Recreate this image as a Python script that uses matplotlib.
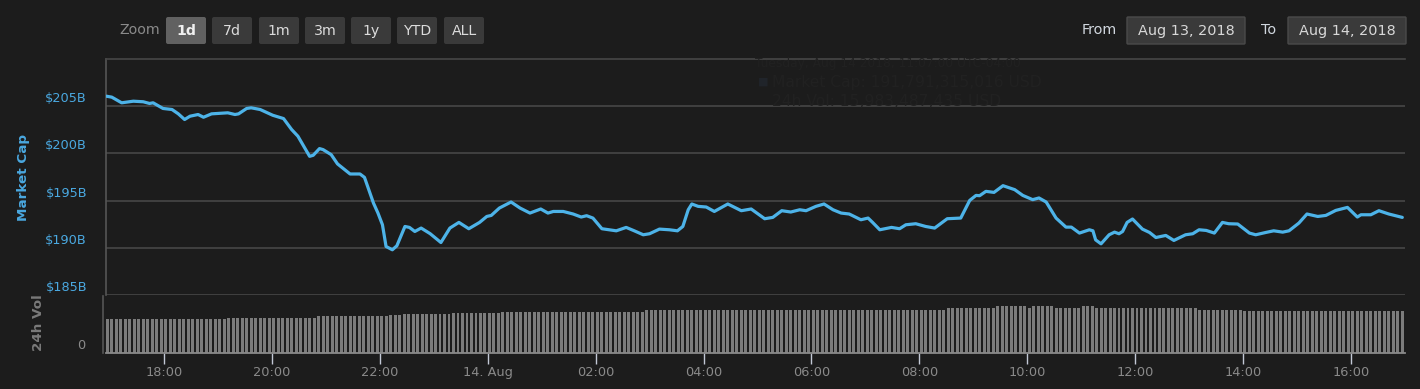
import matplotlib
matplotlib.use("Agg")
import matplotlib.pyplot as plt
import pandas as pd
from matplotlib.patches import FancyBboxPatch
from matplotlib.transforms import ScaledTranslation, blended_transform_factory

# ---------------- data ----------------
line_times = [
    "08-13 16:56", "08-13 17:02", "08-13 17:13", "08-13 17:26", "08-13 17:37", "08-13 17:44",
    "08-13 17:48", "08-13 17:59", "08-13 18:09", "08-13 18:16", "08-13 18:23", "08-13 18:29",
    "08-13 18:38", "08-13 18:44", "08-13 18:53", "08-13 19:11", "08-13 19:19", "08-13 19:23",
    "08-13 19:32", "08-13 19:37", "08-13 19:47", "08-13 20:01", "08-13 20:13", "08-13 20:22",
    "08-13 20:29", "08-13 20:42", "08-13 20:46", "08-13 20:53", "08-13 20:57", "08-13 21:06",
    "08-13 21:13", "08-13 21:27", "08-13 21:38", "08-13 21:43", "08-13 21:53", "08-13 21:58",
    "08-13 22:03", "08-13 22:07", "08-13 22:14", "08-13 22:19", "08-13 22:28", "08-13 22:33",
    "08-13 22:39", "08-13 22:46", "08-13 22:56", "08-13 23:08", "08-13 23:18", "08-13 23:28",
    "08-13 23:39", "08-13 23:51", "08-13 23:59",
    "08-14 00:04", "08-14 00:13", "08-14 00:26", "08-14 00:36", "08-14 00:47", "08-14 00:59",
    "08-14 01:07", "08-14 01:13", "08-14 01:24", "08-14 01:35", "08-14 01:44", "08-14 01:50",
    "08-14 01:57", "08-14 02:07", "08-14 02:23", "08-14 02:34", "08-14 02:43", "08-14 02:53",
    "08-14 03:00", "08-14 03:11", "08-14 03:22", "08-14 03:31", "08-14 03:37", "08-14 03:43",
    "08-14 03:47", "08-14 03:54", "08-14 04:03", "08-14 04:12", "08-14 04:27", "08-14 04:42",
    "08-14 04:53", "08-14 05:08", "08-14 05:17", "08-14 05:27", "08-14 05:37", "08-14 05:47",
    "08-14 05:54", "08-14 06:05", "08-14 06:14", "08-14 06:24", "08-14 06:33", "08-14 06:42",
    "08-14 06:55", "08-14 07:03", "08-14 07:08", "08-14 07:16", "08-14 07:29", "08-14 07:38",
    "08-14 07:45", "08-14 07:56", "08-14 08:07", "08-14 08:17", "08-14 08:31", "08-14 08:46",
    "08-14 08:56", "08-14 09:03", "08-14 09:07", "08-14 09:14", "08-14 09:23", "08-14 09:33",
    "08-14 09:46", "08-14 09:55", "08-14 10:06", "08-14 10:13", "08-14 10:21", "08-14 10:32",
    "08-14 10:43", "08-14 10:49", "08-14 10:58", "08-14 11:09", "08-14 11:13", "08-14 11:16",
    "08-14 11:22", "08-14 11:31", "08-14 11:37", "08-14 11:42", "08-14 11:46", "08-14 11:51",
    "08-14 11:57", "08-14 12:08", "08-14 12:16", "08-14 12:23", "08-14 12:34", "08-14 12:43",
    "08-14 12:56", "08-14 13:04", "08-14 13:11", "08-14 13:19", "08-14 13:28", "08-14 13:37",
    "08-14 13:44", "08-14 13:54", "08-14 14:07", "08-14 14:14", "08-14 14:25", "08-14 14:34",
    "08-14 14:44", "08-14 14:51", "08-14 15:02", "08-14 15:11", "08-14 15:23", "08-14 15:32",
    "08-14 15:43", "08-14 15:56", "08-14 16:07", "08-14 16:11", "08-14 16:22", "08-14 16:31",
    "08-14 16:42", "08-14 16:57",
]
market_cap = [  # billions USD
    206.06, 205.96, 205.36, 205.53, 205.47, 205.29,
    205.36, 204.76, 204.65, 204.19, 203.59, 203.94,
    204.12, 203.83, 204.19, 204.30, 204.12, 204.19,
    204.76, 204.83, 204.65, 204.04, 203.69, 202.53,
    201.82, 199.69, 199.80, 200.51, 200.40, 199.87,
    198.89, 197.82, 197.82, 197.46, 194.74, 193.68,
    192.44, 190.14, 189.79, 190.21, 192.26, 192.16,
    191.73, 192.09, 191.50, 190.56, 192.09, 192.69,
    192.02, 192.69, 193.32,
    193.43, 194.21, 194.85, 194.21, 193.68, 194.11,
    193.68, 193.85, 193.85, 193.58, 193.26, 193.40,
    193.15, 192.02, 191.80, 192.16, 191.80, 191.38,
    191.49, 191.98, 191.91, 191.80, 192.26, 194.03,
    194.64, 194.39, 194.32, 193.85, 194.64, 193.93,
    194.11, 193.08, 193.22, 193.93, 193.79, 194.03,
    193.93, 194.39, 194.64, 194.03, 193.68, 193.58,
    192.97, 193.15, 192.69, 191.91, 192.16, 192.02,
    192.44, 192.55, 192.26, 192.09, 193.08, 193.15,
    195.02, 195.55, 195.52, 195.98, 195.87, 196.58,
    196.16, 195.55, 195.10, 195.28, 194.85, 193.15,
    192.19, 192.19, 191.56, 191.91, 191.80, 190.84,
    190.42, 191.38, 191.66, 191.49, 191.73, 192.69,
    193.05, 191.98, 191.62, 191.09, 191.31, 190.78,
    191.38, 191.49, 191.91, 191.84, 191.56, 192.69,
    192.55, 192.52, 191.56, 191.38, 191.62, 191.80,
    191.66, 191.80, 192.62, 193.58, 193.32, 193.43,
    193.96, 194.28, 193.26, 193.50, 193.50, 193.93,
    193.58, 193.22,
]
vol_start = "2018-08-13 16:57"  # first 5-minute volume bar
volume = [  # billions USD, one per 5 minutes
    11.7, 11.7, 11.7, 11.7, 11.7, 11.7, 11.7, 11.7, 11.7, 11.7, 11.7, 11.7,
    11.7, 11.7, 11.7, 11.7, 11.7, 11.7, 11.7, 11.7, 11.7, 11.7, 11.7, 11.7,
    11.7, 11.7, 11.7,
    12.3, 12.3, 12.3, 12.3, 12.3, 12.3, 12.3, 12.3, 12.3, 12.3, 12.3, 12.3,
    12.3, 12.3, 12.3, 12.3, 12.3, 12.3, 12.3, 12.3,
    12.7, 12.7, 12.7, 12.7, 12.7, 12.7, 12.7, 12.7, 12.7, 12.7, 12.7, 12.7,
    12.7, 12.7, 12.7, 12.7,
    13.1, 13.1, 13.1,
    13.5, 13.5, 13.5, 13.5, 13.5, 13.5, 13.5, 13.5, 13.5, 13.5, 13.5,
    14.0, 14.0, 14.0, 14.0, 14.0, 14.0, 14.0, 14.0, 14.0, 14.0, 14.0,
    14.3, 14.3, 14.3, 14.3, 14.3, 14.3, 14.3, 14.3, 14.3, 14.3, 14.3, 14.3,
    14.3, 14.3, 14.3, 14.3, 14.3, 14.3, 14.3, 14.3, 14.3, 14.3, 14.3, 14.3,
    14.3, 14.3, 14.3, 14.3, 14.3, 14.3, 14.3, 14.3,
    14.8, 14.8, 14.8, 14.8, 14.8, 14.8, 14.8, 14.8, 14.8,
    15.1, 15.1, 15.1, 15.1, 15.1, 15.1, 15.1, 15.1, 15.1, 15.1, 15.1, 15.1,
    15.1, 15.1, 15.1, 15.1, 15.1, 15.1, 15.1, 15.1, 15.1, 15.1, 15.1, 15.1,
    15.1, 15.1, 15.1, 15.1, 15.1, 15.1, 15.1, 15.1, 15.1, 15.1, 15.1, 15.1,
    15.1, 15.1, 15.1, 15.1, 15.1, 15.1, 15.1, 15.1, 15.1, 15.1, 15.1, 15.1,
    15.1, 15.1, 15.1, 15.1, 15.1, 15.1, 15.1, 15.1, 15.1, 15.1,
    15.6, 15.6, 15.6, 15.6, 15.6, 15.6, 15.6, 15.6, 15.6, 15.6, 15.6,
    16.2, 16.2, 16.2, 16.2, 16.2, 16.2, 16.2,
    15.6,
    16.2, 16.2, 16.2, 16.2, 16.2,
    15.6, 15.6, 15.6, 15.6, 15.6, 15.6,
    16.2, 16.2, 16.2,
    15.6, 15.6, 15.6, 15.6, 15.6, 15.6, 15.6, 15.6, 15.6, 15.6, 15.6, 15.6,
    15.6, 15.6, 15.6, 15.6, 15.6, 15.6, 15.6, 15.6, 15.6, 15.6, 15.6,
    15.1, 15.1, 15.1, 15.1, 15.1, 15.1, 15.1, 15.1, 15.1, 15.1,
    14.7, 14.7, 14.7, 14.7, 14.7, 14.7, 14.7, 14.7, 14.7, 14.7, 14.7, 14.7,
    14.7, 14.7, 14.7, 14.7, 14.7, 14.7, 14.7, 14.7, 14.7, 14.7, 14.7, 14.7,
    14.7, 14.7, 14.7, 14.7, 14.7, 14.7, 14.7, 14.7, 14.7, 14.7, 14.7, 14.7,
]
cap_ticks = [185, 190, 195, 200, 205]
cap_tick_labels = ["$185B", "$190B", "$195B", "$200B", "$205B"]
vol_ticks = [0]
vol_tick_labels = ["0"]
x_tick_times = ["2018-08-13 18:00", "2018-08-13 20:00", "2018-08-13 22:00", "2018-08-14 00:00",
                "2018-08-14 02:00", "2018-08-14 04:00", "2018-08-14 06:00", "2018-08-14 08:00",
                "2018-08-14 10:00", "2018-08-14 12:00", "2018-08-14 14:00", "2018-08-14 16:00"]
x_tick_labels = ["18:00", "20:00", "22:00", "14. Aug", "02:00", "04:00", "06:00", "08:00",
                 "10:00", "12:00", "14:00", "16:00"]
zoom_buttons = ["1d", "7d", "1m", "3m", "1y", "YTD", "ALL"]
from_date = "Aug 13, 2018"
to_date = "Aug 14, 2018"
tooltip_lines = ["Tuesday, Aug 14 2018, 11:07:00 UTC-04:00",
                 "Market Cap: 191,791,315,016 USD",
                 "24h Vol: 15,983,487,435 USD"]

# ---------------- style ----------------
BG = "#1c1c1c"
LINE = "#4db3e8"
BLUE_TXT = "#4aa8e0"
GRID = "#474747"
W, H = 1420, 389
plt.rcParams["font.family"] = ["DejaVu Sans"]

def fx(px):
    return px / W

def fy(py):
    return 1 - py / H

fig = plt.figure(figsize=(W / 100, H / 100), dpi=100, facecolor=BG)

t_line = pd.to_datetime(["2018-" + s for s in line_times])
t_vol = pd.date_range(vol_start, periods=len(volume), freq="5min")
xlim = (pd.Timestamp("2018-08-13 16:55:36"), pd.Timestamp("2018-08-14 17:00:00"))
xticks = pd.to_datetime(x_tick_times)

# main axes
ax = fig.add_axes([fx(106), fy(295), fx(1405) - fx(106), fy(59) - fy(295)])
ax.set_facecolor("none")
ax.plot(t_line, market_cap, color=LINE, lw=2.3, solid_joinstyle="round",
        solid_capstyle="round", zorder=3)
ax.set_ylim(185, 210)
ax.set_xlim(*xlim)
ax.set_yticks(cap_ticks)
ax.set_yticklabels([])
ax.tick_params(axis="y", length=0)
ax.set_xticks(xticks)
ax.tick_params(axis="x", length=0, labelbottom=False)
ax.grid(axis="y", color=GRID, lw=1.2)
ax.set_axisbelow(True)
for s in ["right", "bottom"]:
    ax.spines[s].set_visible(False)
ax.spines["top"].set_color(GRID)
ax.spines["top"].set_linewidth(1.2)
ax.spines["left"].set_color("#555555")
ax.spines["left"].set_linewidth(1.2)
tr = blended_transform_factory(ax.transAxes, ax.transData) + \
    ScaledTranslation(-19 / 100, 7.5 / 100, fig.dpi_scale_trans)
for v, lab in zip(cap_ticks, cap_tick_labels):
    ax.text(0, v, lab, transform=tr, color=BLUE_TXT, fontsize=9.3, ha="right", va="center")

# volume axes
vax = fig.add_axes([fx(106), fy(352.7), fx(1405) - fx(106), fy(295.5) - fy(352.7)])
vax.set_facecolor("none")
vax.bar(t_vol, volume, width=5 / 1440 * 0.66, color="#7c7c7c", align="center", zorder=2)
vax.set_ylim(0, 20)
vax.set_xlim(*xlim)
vax.set_yticks(vol_ticks)
vax.set_yticklabels([])
vax.tick_params(axis="y", length=0)
tr2 = blended_transform_factory(vax.transAxes, vax.transData) + \
    ScaledTranslation(-21 / 100, 7.5 / 100, fig.dpi_scale_trans)
for v, lab in zip(vol_ticks, vol_tick_labels):
    vax.text(0, v, lab, transform=tr2, color="#8a8a8a", fontsize=9.3, ha="right", va="center")
vax.set_xticks(xticks)
vax.set_xticklabels(x_tick_labels, color="#8a8a8a", fontsize=9.3)
vax.tick_params(axis="x", direction="out", length=7.8, width=1.0, color="#c3c9d6", pad=2)
for s in ["right", "top"]:
    vax.spines[s].set_visible(False)
vax.spines["bottom"].set_color("#8a8a8a")
vax.spines["bottom"].set_linewidth(1.3)
vax.spines["left"].set_color("#555555")
vax.spines["left"].set_linewidth(1.2)
vax.spines["left"].set_position(("outward", 2.2))

# axis titles
fig.text(fx(24), fy(177), "Market Cap", rotation=90, color=BLUE_TXT, fontsize=9.7,
         fontweight="bold", ha="center", va="center")
fig.text(fx(38.5), fy(323), "24h Vol", rotation=90, color="#7a7a7a", fontsize=9.7,
         fontweight="bold", ha="center", va="center")

# overlay for controls
ov = fig.add_axes([0, 0, 1, 1])
ov.set_xlim(0, W)
ov.set_ylim(H, 0)
ov.axis("off")
ov.set_facecolor("none")

# faint tooltip ghost
GHOST = "#212121"
ov.text(755, 63, tooltip_lines[0], color=GHOST, fontsize=8.8, va="center", ha="left")
ov.text(758, 82, "\u25a0", color="#20242a", fontsize=8, va="center", ha="left")
ov.text(772, 82, tooltip_lines[1], color=GHOST, fontsize=11.2, va="center", ha="left")
ov.text(772, 101, tooltip_lines[2], color=GHOST, fontsize=11.2, va="center", ha="left")

ov.text(160, 30, "Zoom", color="#8a8a8a", fontsize=10.2, ha="right", va="center")
btn_x0 = [166, 212, 259, 305, 351, 397, 444]
for i, (lab, bx) in enumerate(zip(zoom_buttons, btn_x0)):
    sel = i == 0
    p = FancyBboxPatch((bx, 17), 40, 27, boxstyle="round,pad=0,rounding_size=2",
                       facecolor="#616161" if sel else "#3a3a3a", edgecolor="none")
    ov.add_patch(p)
    ov.text(bx + 20, 30.5, lab, color="#f0f0f0" if sel else "#dcdcdc", fontsize=10.2,
            fontweight="bold" if sel else "normal", ha="center", va="center")

ov.text(1099, 30, "From", color="#d0d6de", fontsize=10.4, ha="center", va="center")
ov.add_patch(FancyBboxPatch((1127, 17), 118, 27, boxstyle="round,pad=0,rounding_size=1",
                            facecolor="#3a3a3a", edgecolor="#4a4a4a", lw=1))
ov.text(1186, 30.5, from_date, color="#d8d8d8", fontsize=10.4, ha="center", va="center")
ov.text(1269, 30, "To", color="#d0d6de", fontsize=10.4, ha="center", va="center")
ov.add_patch(FancyBboxPatch((1288, 17), 118, 27, boxstyle="round,pad=0,rounding_size=1",
                            facecolor="#3a3a3a", edgecolor="#4a4a4a", lw=1))
ov.text(1347, 30.5, to_date, color="#d8d8d8", fontsize=10.4, ha="center", va="center")

fig.savefig("out.png", dpi=100, facecolor=BG)
